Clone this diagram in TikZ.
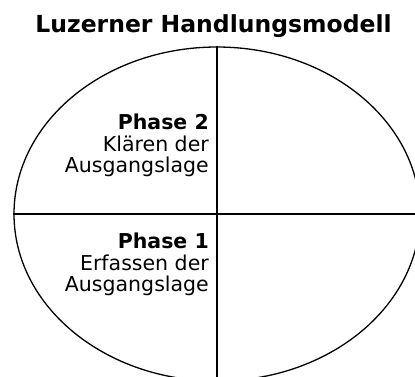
\documentclass[tikz,border=0pt]{standalone}
\usepackage{fontspec}
\setmainfont{DejaVu Sans}
\usetikzlibrary{shapes.geometric}
\begin{document}
\begin{tikzpicture}[x=1pt,y=-1pt,
  ring/.style={draw=black,line width=1.3pt,ellipse,inner sep=0pt,
    minimum width=406pt,minimum height=334pt},
  axis/.style={draw=black,line width=1.3pt},
  title/.style={font=\fontsize{23.5}{28}\selectfont\bfseries,inner sep=0pt},
  phasetext/.style={align=right,inner sep=0pt,
    font=\fontsize{20.5}{21.5}\selectfont}]
  \useasboundingbox (0,0) rectangle (415,376);
  % outer oval and the two axes that split it into quadrants
  \node[ring] (oval) at (217,214) {};
  \draw[axis] (oval.north) -- (oval.south);
  \draw[axis] (oval.west) -- (oval.east);
  % heading
  \node[title,anchor=base] (head) at (213.5,32) {Luzerner Handlungsmodell};
  % phase labels in the left quadrants
  \node[phasetext,anchor=north east] (p2) at (209,114)
    {\textbf{Phase 2}\\Klären der\\Ausgangslage};
  \node[phasetext,anchor=north east] (p1) at (209,233)
    {\textbf{Phase 1}\\Erfassen der\\Ausgangslage};
\end{tikzpicture}
\end{document}
